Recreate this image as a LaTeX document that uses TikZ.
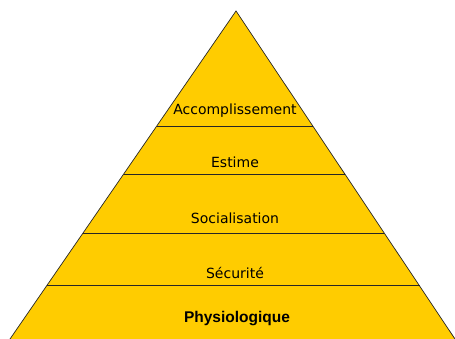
\documentclass[tikz,border=0pt]{standalone}
\usepackage{fontspec}
\setmainfont{DejaVu Sans}
\newfontfamily\arialfont{Liberation Sans}
\usetikzlibrary{calc}
\definecolor{pyrfill}{HTML}{FFCC00}

\begin{document}
\begin{tikzpicture}[x=1pt,y=-1pt,
    level/.style={font=\fontsize{14}{16}\selectfont, inner sep=0pt},
    sep/.style={draw=black!85, line width=0.9pt}]
  \useasboundingbox (0,0) rectangle (455,339);
  % pyramid
  \coordinate (apex) at (236,11);
  \coordinate (bl) at (10,339);
  \coordinate (br) at (455,339);
  \fill[pyrfill] (apex) -- (bl) -- (br) -- cycle;
  \draw[black!85, line width=0.7pt] (bl) -- (apex) -- (br);

  % separating lines
  \foreach \t [count=\i] in {0.3506,0.497,0.677,0.838} {
    \coordinate (l\i) at ($(apex)!\t!(bl)$);
    \coordinate (r\i) at ($(apex)!\t!(br)$);
    \draw[sep] (l\i) -- (r\i);
  }

  % labels
  \node[level] (accomp) at (235,111) {Accomplissement};
  \node[level] (estime) at (235,162) {Estime};
  \node[level] (social) at (235,218) {Socialisation};
  \node[level] (secur) at (235,273) {Sécurité};
  \node[level, font=\arialfont\bfseries\fontsize{15.5}{17}\selectfont] (physio) at (237,319) {Physiologique};
\end{tikzpicture}
\end{document}
